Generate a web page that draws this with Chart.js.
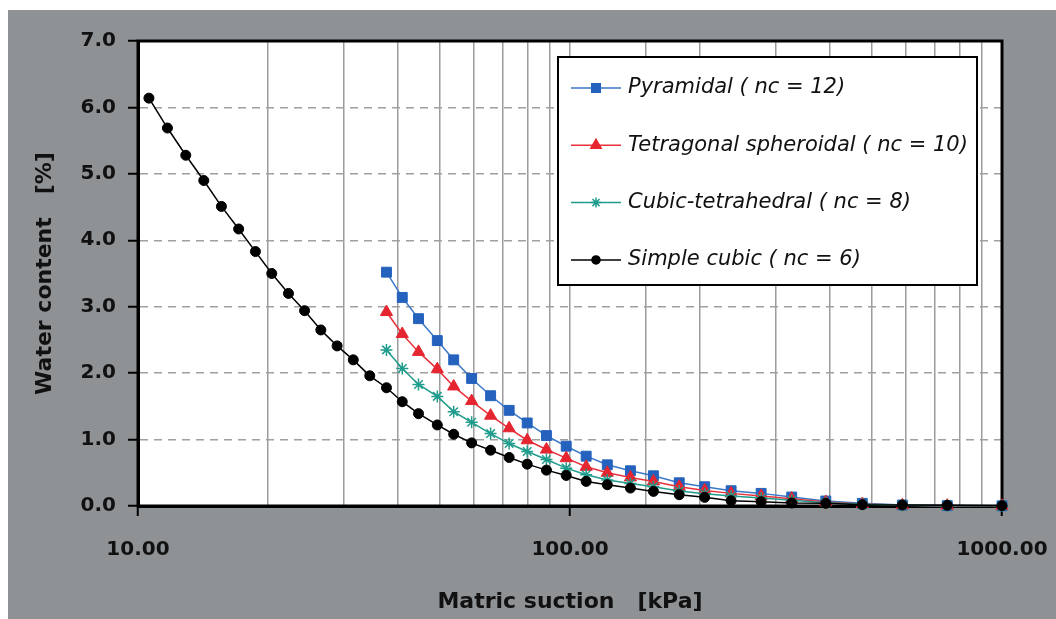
<!DOCTYPE html>
<html>
<head>
<meta charset="utf-8">
<script src="https://cdn.jsdelivr.net/npm/chart.js@4.4.1/dist/chart.umd.min.js"></script>
<style>
  html, body { margin: 0; padding: 0; background: #fff; }
  #panel { position: absolute; left: 8px; top: 10px; width: 1048px; height: 609px; background: #8f9295; }
</style>
</head>
<body>
<div id="panel"><canvas id="retention" width="1048" height="609"></canvas></div>
<script>
// matric suction [kPa], shared by all curves
const suction = [10.6, 11.7, 12.9, 14.2, 15.6, 17.1, 18.7, 20.4, 22.3, 24.3, 26.5, 28.9, 31.5, 34.4,
    37.6, 40.9, 44.6, 49.3, 53.8, 59.2, 65.5, 72.3, 79.6, 88.2, 98.0, 109, 122, 138, 156, 179,
    205, 236, 277, 326, 391, 475, 588, 747, 1000];

// water content [%]
const simpleCubic = [6.14, 5.69, 5.28, 4.90, 4.51, 4.17, 3.83, 3.50, 3.20, 2.94, 2.65, 2.41, 2.20, 1.96,
    1.78, 1.57, 1.39, 1.22, 1.08, 0.95, 0.84, 0.73, 0.63, 0.54, 0.46, 0.37, 0.32, 0.27, 0.22, 0.17,
    0.13, 0.08, 0.065, 0.045, 0.04, 0.02, 0.015, 0.01, 0.005];
// the other three start at the 15th suction value
const pyramidal = [3.52, 3.14, 2.82, 2.49, 2.20, 1.92, 1.66, 1.44, 1.25, 1.06, 0.90, 0.75, 0.62, 0.53,
    0.455, 0.35, 0.29, 0.23, 0.19, 0.135, 0.075, 0.04, 0.015, 0.005, 0.003];
const tetragonal = [2.92, 2.59, 2.32, 2.06, 1.80, 1.58, 1.36, 1.17, 0.99, 0.85, 0.72, 0.59, 0.50, 0.43,
    0.37, 0.29, 0.235, 0.19, 0.15, 0.11, 0.06, 0.03, 0.012, 0.005, 0.003];
const cubicTetra = [2.35, 2.07, 1.83, 1.65, 1.42, 1.26, 1.09, 0.94, 0.82, 0.70, 0.57, 0.47, 0.39, 0.34,
    0.29, 0.225, 0.185, 0.15, 0.12, 0.087, 0.048, 0.026, 0.01, 0.004, 0.002];

const yTicks = [0, 1, 2, 3, 4, 5, 6, 7];

function pairs(values) {
    const offset = suction.length - values.length;
    return values.map((v, i) => ({ x: suction[i + offset], y: v }));
}

function isDecade(v) {
    const l = Math.log10(v);
    return Math.abs(l - Math.round(l)) < 1e-6;
}

const bold = { family: 'DejaVu Sans', weight: 'bold', size: 20 };

const areaFill = {
    id: 'areaFill',
    beforeDraw(chart) {
        const { ctx, chartArea: a } = chart;
        ctx.save();
        ctx.fillStyle = '#fff';
        ctx.fillRect(a.left, a.top, a.right - a.left, a.bottom - a.top);
        ctx.restore();
    },
    beforeDatasetsDraw(chart) {
        const { ctx, chartArea: a } = chart;
        ctx.save();
        ctx.strokeStyle = '#000';
        ctx.lineWidth = 3;
        ctx.strokeRect(a.left, a.top, a.right - a.left, a.bottom - a.top);
        ctx.restore();
    }
};

const boxLegend = {
    id: 'boxLegend',
    afterDatasetsDraw(chart) {
        const { ctx, chartArea: a } = chart;
        const x0 = a.left + 420, y0 = a.top + 16, w = 419, h = 228;
        ctx.save();
        ctx.fillStyle = '#fff';
        ctx.fillRect(x0, y0, w, h);
        ctx.strokeStyle = '#000';
        ctx.lineWidth = 2;
        ctx.strokeRect(x0, y0, w, h);
        chart.data.datasets.forEach((ds, i) => {
            const y = y0 + 31 + i * 57.3;
            ctx.strokeStyle = ds.borderColor;
            ctx.lineWidth = 1.5;
            ctx.beginPath();
            ctx.moveTo(x0 + 13, y);
            ctx.lineTo(x0 + 63, y);
            ctx.stroke();
            ctx.fillStyle = ds.pointBackgroundColor;
            ctx.strokeStyle = ds.pointBorderColor;
            if (Chart.helpers && Chart.helpers.drawPoint) {
                Chart.helpers.drawPoint(ctx, { pointStyle: ds.pointStyle, radius: ds.pointRadius - 1,
                    borderWidth: ds.pointBorderWidth, rotation: 0 }, x0 + 38, y);
            }
            ctx.fillStyle = '#111';
            ctx.font = 'italic 21px "DejaVu Sans"';
            ctx.textBaseline = 'middle';
            ctx.fillText(ds.label, x0 + 70, y);
        });
        ctx.restore();
    }
};

new Chart(document.getElementById('retention'), {
    type: 'line',
    data: {
        datasets: [{
            label: 'Pyramidal ( nc = 12)',
            data: pairs(pyramidal),
            borderColor: '#3a78c9',
            pointBackgroundColor: '#2462bd',
            pointBorderColor: '#2462bd',
            pointStyle: 'rect',
            pointRadius: 7,
            pointBorderWidth: 1,
            order: 4
        }, {
            label: 'Tetragonal spheroidal ( nc = 10)',
            data: pairs(tetragonal),
            borderColor: '#e8323c',
            pointBackgroundColor: '#e52530',
            pointBorderColor: '#e52530',
            pointStyle: 'triangle',
            pointRadius: 7,
            pointBorderWidth: 1,
            order: 3
        }, {
            label: 'Cubic-tetrahedral ( nc = 8)',
            data: pairs(cubicTetra),
            borderColor: '#1f9c8c',
            pointBackgroundColor: '#1f9c8c',
            pointBorderColor: '#1f9c8c',
            pointStyle: 'star',
            pointRadius: 6,
            pointBorderWidth: 1.5,
            order: 2
        }, {
            label: 'Simple cubic ( nc = 6)',
            data: pairs(simpleCubic),
            borderColor: '#000',
            pointBackgroundColor: '#000',
            pointBorderColor: '#000',
            pointStyle: 'circle',
            pointRadius: 5,
            pointBorderWidth: 1,
            order: 1
        }]
    },
    options: {
        responsive: false,
        animation: false,
        clip: false,
        elements: { line: { borderWidth: 1.5, tension: 0 } },
        layout: { padding: { top: 31, right: 54, left: 0, bottom: 0 } },
        plugins: { legend: { display: false }, tooltip: { enabled: false } },
        scales: {
            x: {
                type: 'logarithmic',
                min: 10,
                max: 1000,
                afterFit: s => {
                    s.height = 113;
                    s.paddingLeft = 0;
                    s.paddingRight = 46;
                },
                grid: {
                    color: '#9c9c9c',
                    lineWidth: 1.5,
                    tickLength: 10,
                    tickWidth: 2,
                    tickColor: c => (c.tick && isDecade(c.tick.value)) ? '#000' : 'rgba(0,0,0,0)'
                },
                border: { color: '#000', width: 3 },
                ticks: {
                    autoSkip: false,
                    maxRotation: 0,
                    padding: 22,
                    color: '#111',
                    font: bold,
                    callback: v => isDecade(v) ? v.toFixed(2) : ''
                },
                title: {
                    display: true,
                    text: 'Matric suction   [kPa]',
                    color: '#111',
                    font: { family: 'DejaVu Sans', weight: 'bold', size: 22 },
                    padding: { top: 0, bottom: 4 }
                }
            },
            y: {
                min: 0,
                max: 7,
                afterFit: s => { s.width = 130; },
                afterBuildTicks: s => { s.ticks = yTicks.map(v => ({ value: v })); },
                grid: {
                    color: '#a0a0a0',
                    lineWidth: 1.5,
                    tickLength: 10,
                    tickWidth: 2,
                    tickColor: '#000'
                },
                border: { color: '#000', width: 3, dash: [8, 6] },
                ticks: {
                    padding: 12,
                    color: '#111',
                    font: bold,
                    callback: v => v.toFixed(1)
                },
                title: {
                    display: true,
                    text: 'Water content   [%]',
                    color: '#111',
                    font: { family: 'DejaVu Sans', weight: 'bold', size: 22 },
                    padding: { top: 24, bottom: 0 }
                }
            }
        }
    },
    plugins: [areaFill, boxLegend]
});
</script>
</body>
</html>
